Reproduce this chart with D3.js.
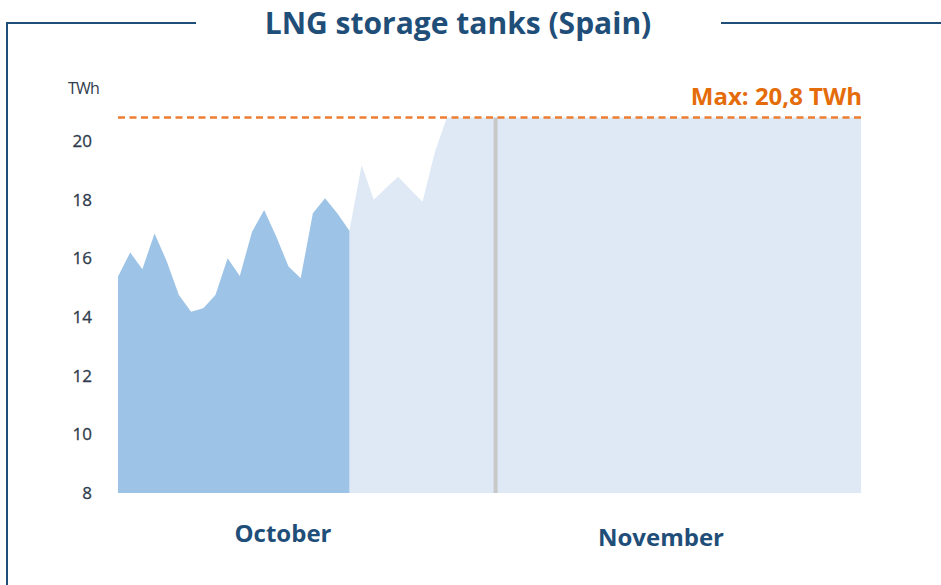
<!DOCTYPE html>
<html>
<head>
<meta charset="utf-8">
<script src="https://cdn.jsdelivr.net/npm/d3@7"></script>
<style>
  body { margin: 0; background: #fff; }
  svg { display: block; font-family: "Open Sans", sans-serif; }
</style>
</head>
<body>
<svg width="941" height="585"></svg>
<script>
// data: daily LNG stock in Spanish terminals, Oct 1 .. Dec 1
var startDate = new Date(2022, 9, 1);
var endDate = new Date(2022, 11, 1);
var monthStart = new Date(2022, 10, 1);

// measured (Oct 1 - Oct 20)
var actualValues = [15.38, 16.2, 15.63, 16.85, 15.9, 14.75, 14.18, 14.3, 14.75, 16.0,
                    15.4, 16.9, 17.65, 16.74, 15.72, 15.32, 17.54, 18.05, 17.54, 16.94];

// projection (Oct 20 - Dec 1)
var forecastValues = [16.94, 19.18, 18.0, 18.4, 18.78, 18.35, 17.93, 19.6,
                      20.8, 20.8, 20.8, 20.8, 20.8, 20.8, 20.8, 20.8, 20.8, 20.8,
                      20.8, 20.8, 20.8, 20.8, 20.8, 20.8, 20.8, 20.8, 20.8, 20.8,
                      20.8, 20.8, 20.8, 20.8, 20.8, 20.8, 20.8, 20.8, 20.8, 20.8,
                      20.8, 20.8, 20.8, 20.8, 20.8];

var maxCapacity = 20.8;
var yTicks = [8, 10, 12, 14, 16, 18, 20];
var monthLabels = ["October", "November"];

var days = d3.timeDay.range(startDate, d3.timeDay.offset(endDate, 1));
var actual = actualValues.map(function(v, i){ return {date: days[i], value: v}; });
var forecast = forecastValues.map(function(v, i){ return {date: days[i + 19], value: v}; });

var svg = d3.select("svg");
var navy = "#1f4e79";

var x = d3.scaleTime()
    .domain([startDate, endDate])
    .range([118, 861]);

var y = d3.scaleLinear()
    .domain([8, 20])
    .range([493, 141]);

// frame
svg.append("path")
    .attr("d", "M7,585 V23 H196 M721,23 H941")
    .attr("fill", "none")
    .attr("stroke", navy)
    .attr("stroke-width", 2);

svg.append("text")
    .attr("x", 458).attr("y", 34)
    .attr("text-anchor", "middle")
    .style("font-size", "30px")
    .style("font-weight", "bold")
    .attr("fill", navy)
    .text("LNG storage tanks (Spain)");

var area = d3.area()
    .x(function(d){ return x(d.date); })
    .y0(y(8))
    .y1(function(d){ return y(d.value); });

svg.append("path")
    .datum(forecast)
    .attr("d", area)
    .attr("fill", "#dee9f5");

svg.append("path")
    .datum(actual)
    .attr("d", area)
    .attr("fill", "#9dc3e6");

// month divider
svg.append("line")
    .attr("x1", x(monthStart)).attr("x2", x(monthStart))
    .attr("y1", y(maxCapacity)).attr("y2", y(8))
    .attr("stroke", "#c8c8c8")
    .attr("stroke-width", 4);

// max line
svg.append("line")
    .attr("x1", x(startDate)).attr("x2", x(endDate))
    .attr("y1", y(maxCapacity)).attr("y2", y(maxCapacity))
    .attr("stroke", "#ed7d31")
    .attr("stroke-width", 2.5)
    .attr("stroke-dasharray", "7,4.5");

svg.append("text")
    .attr("x", 862).attr("y", 105)
    .attr("text-anchor", "end")
    .style("font-size", "24px")
    .style("font-weight", "bold")
    .attr("fill", "#e46c0a")
    .text("Max: " + String(maxCapacity).replace(".", ",") + " TWh");

// y axis
var axisY = d3.axisLeft(y)
    .tickValues(yTicks)
    .tickSize(0)
    .tickPadding(0);

var gy = svg.append("g")
    .attr("transform", "translate(92,0)")
    .call(axisY);
gy.select(".domain").remove();
gy.selectAll("text")
    .attr("fill", "#2f3b4c")
    .style("font-family", "'Open Sans', sans-serif")
    .style("font-size", "17px")
    .style("stroke", "#2f3b4c")
    .style("stroke-width", "0.3px");

svg.append("text")
    .attr("x", 68).attr("y", 94)
    .style("font-size", "16px")
    .style("letter-spacing", "-0.8px")
    .attr("fill", "#2f3b4c")
    .text("TWh");

// month labels
svg.append("text")
    .attr("x", 283).attr("y", 542)
    .attr("text-anchor", "middle")
    .style("font-size", "24px")
    .style("font-weight", "bold")
    .attr("fill", navy)
    .text(monthLabels[0]);

svg.append("text")
    .attr("x", 661).attr("y", 546)
    .attr("text-anchor", "middle")
    .style("font-size", "24px")
    .style("font-weight", "bold")
    .attr("fill", navy)
    .text(monthLabels[1]);
</script>
</body>
</html>
